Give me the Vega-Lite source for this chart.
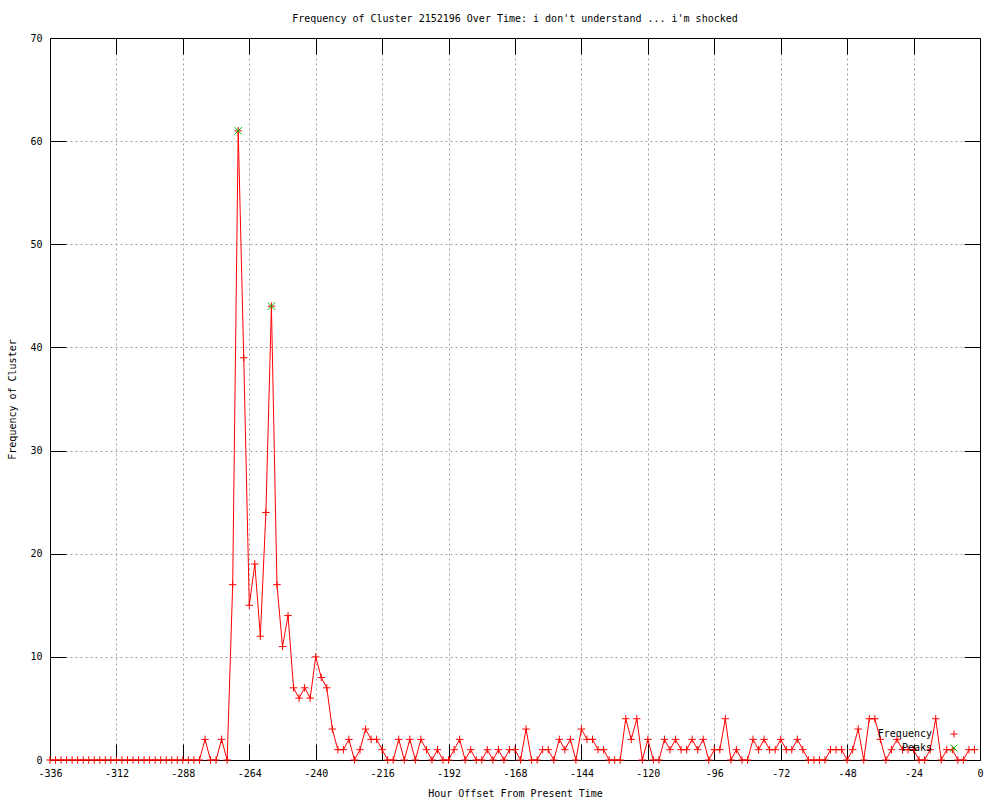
{
  "$schema": "https://vega.github.io/schema/vega-lite/v6.json",
  "width": 930,
  "height": 722,
  "autosize": "none",
  "padding": {"left": 50, "top": 38, "right": 20, "bottom": 40},
  "background": "white",
  "title": {"text": "Frequency of Cluster 2152196 Over Time: i don't understand ... i'm shocked", "font": "DejaVu Sans Mono", "fontSize": 10, "fontWeight": "normal", "color": "black", "offset": 9, "anchor": "middle"},
  "config": {
    "view": {"stroke": "black", "strokeWidth": 1},
    "axis": {"labelFont": "DejaVu Sans Mono", "labelFontSize": 10, "labelColor": "black", "titleFont": "DejaVu Sans Mono", "titleFontSize": 10, "titleFontWeight": "normal", "titleColor": "black", "tickColor": "black", "tickWidth": 1, "domain": false, "labelFlush": false, "labelOverlap": false, "labelBound": false, "gridColor": "#a0a0a0", "gridDash": [2, 3], "gridWidth": 1, "gridOpacity": 1}
  },
  "datasets": {
    "freq": [
      {"h": -336, "c": 0}, {"h": -334, "c": 0}, {"h": -332, "c": 0}, {"h": -330, "c": 0}, {"h": -328, "c": 0}, {"h": -326, "c": 0}, {"h": -324, "c": 0}, {"h": -322, "c": 0}, {"h": -320, "c": 0}, {"h": -318, "c": 0},
      {"h": -316, "c": 0}, {"h": -314, "c": 0}, {"h": -312, "c": 0}, {"h": -310, "c": 0}, {"h": -308, "c": 0}, {"h": -306, "c": 0}, {"h": -304, "c": 0}, {"h": -302, "c": 0}, {"h": -300, "c": 0}, {"h": -298, "c": 0},
      {"h": -296, "c": 0}, {"h": -294, "c": 0}, {"h": -292, "c": 0}, {"h": -290, "c": 0}, {"h": -288, "c": 0}, {"h": -286, "c": 0}, {"h": -284, "c": 0}, {"h": -282, "c": 0}, {"h": -280, "c": 2}, {"h": -278, "c": 0},
      {"h": -276, "c": 0}, {"h": -274, "c": 2}, {"h": -272, "c": 0}, {"h": -270, "c": 17}, {"h": -268, "c": 61}, {"h": -266, "c": 39}, {"h": -264, "c": 15}, {"h": -262, "c": 19}, {"h": -260, "c": 12}, {"h": -258, "c": 24},
      {"h": -256, "c": 44}, {"h": -254, "c": 17}, {"h": -252, "c": 11}, {"h": -250, "c": 14}, {"h": -248, "c": 7}, {"h": -246, "c": 6}, {"h": -244, "c": 7}, {"h": -242, "c": 6}, {"h": -240, "c": 10}, {"h": -238, "c": 8},
      {"h": -236, "c": 7}, {"h": -234, "c": 3}, {"h": -232, "c": 1}, {"h": -230, "c": 1}, {"h": -228, "c": 2}, {"h": -226, "c": 0}, {"h": -224, "c": 1}, {"h": -222, "c": 3}, {"h": -220, "c": 2}, {"h": -218, "c": 2},
      {"h": -216, "c": 1}, {"h": -214, "c": 0}, {"h": -212, "c": 0}, {"h": -210, "c": 2}, {"h": -208, "c": 0}, {"h": -206, "c": 2}, {"h": -204, "c": 0}, {"h": -202, "c": 2}, {"h": -200, "c": 1}, {"h": -198, "c": 0},
      {"h": -196, "c": 1}, {"h": -194, "c": 0}, {"h": -192, "c": 0}, {"h": -190, "c": 1}, {"h": -188, "c": 2}, {"h": -186, "c": 0}, {"h": -184, "c": 1}, {"h": -182, "c": 0}, {"h": -180, "c": 0}, {"h": -178, "c": 1},
      {"h": -176, "c": 0}, {"h": -174, "c": 1}, {"h": -172, "c": 0}, {"h": -170, "c": 1}, {"h": -168, "c": 1}, {"h": -166, "c": 0}, {"h": -164, "c": 3}, {"h": -162, "c": 0}, {"h": -160, "c": 0}, {"h": -158, "c": 1},
      {"h": -156, "c": 1}, {"h": -154, "c": 0}, {"h": -152, "c": 2}, {"h": -150, "c": 1}, {"h": -148, "c": 2}, {"h": -146, "c": 0}, {"h": -144, "c": 3}, {"h": -142, "c": 2}, {"h": -140, "c": 2}, {"h": -138, "c": 1},
      {"h": -136, "c": 1}, {"h": -134, "c": 0}, {"h": -132, "c": 0}, {"h": -130, "c": 0}, {"h": -128, "c": 4}, {"h": -126, "c": 2}, {"h": -124, "c": 4}, {"h": -122, "c": 0}, {"h": -120, "c": 2}, {"h": -118, "c": 0},
      {"h": -116, "c": 0}, {"h": -114, "c": 2}, {"h": -112, "c": 1}, {"h": -110, "c": 2}, {"h": -108, "c": 1}, {"h": -106, "c": 1}, {"h": -104, "c": 2}, {"h": -102, "c": 1}, {"h": -100, "c": 2}, {"h": -98, "c": 0},
      {"h": -96, "c": 1}, {"h": -94, "c": 1}, {"h": -92, "c": 4}, {"h": -90, "c": 0}, {"h": -88, "c": 1}, {"h": -86, "c": 0}, {"h": -84, "c": 0}, {"h": -82, "c": 2}, {"h": -80, "c": 1}, {"h": -78, "c": 2},
      {"h": -76, "c": 1}, {"h": -74, "c": 1}, {"h": -72, "c": 2}, {"h": -70, "c": 1}, {"h": -68, "c": 1}, {"h": -66, "c": 2}, {"h": -64, "c": 1}, {"h": -62, "c": 0}, {"h": -60, "c": 0}, {"h": -58, "c": 0},
      {"h": -56, "c": 0}, {"h": -54, "c": 1}, {"h": -52, "c": 1}, {"h": -50, "c": 1}, {"h": -48, "c": 0}, {"h": -46, "c": 1}, {"h": -44, "c": 3}, {"h": -42, "c": 0}, {"h": -40, "c": 4}, {"h": -38, "c": 4},
      {"h": -36, "c": 2}, {"h": -34, "c": 0}, {"h": -32, "c": 1}, {"h": -30, "c": 2}, {"h": -28, "c": 1}, {"h": -26, "c": 1}, {"h": -24, "c": 1}, {"h": -22, "c": 0}, {"h": -20, "c": 0}, {"h": -18, "c": 1},
      {"h": -16, "c": 4}, {"h": -14, "c": 0}, {"h": -12, "c": 1}, {"h": -10, "c": 1}, {"h": -8, "c": 0}, {"h": -6, "c": 0}, {"h": -4, "c": 1}, {"h": -2, "c": 1}
    ],
    "peaks": [
      {"h": -268, "c": 61}, {"h": -256, "c": 44}
    ]
  },
  "layer": [
    {
      "data": {"name": "freq"},
      "mark": {"type": "line", "color": "#ff0000", "strokeWidth": 1, "interpolate": "linear"},
      "encoding": {
        "x": {"field": "h", "type": "quantitative", "scale": {"domain": [-336, 0], "nice": false, "zero": false},
              "axis": {"orient": "top", "values": [-336, -312, -288, -264, -240, -216, -192, -168, -144, -120, -96, -72, -48, -24, 0], "labels": false, "title": null, "tickSize": -16, "grid": false}},
        "y": {"field": "c", "type": "quantitative", "scale": {"domain": [0, 70], "nice": false},
              "axis": {"orient": "right", "values": [0, 10, 20, 30, 40, 50, 60, 70], "labels": false, "title": null, "tickSize": -16, "grid": false}}
      }
    },
    {
      "data": {"name": "freq"},
      "mark": {"type": "point", "filled": false, "size": 56, "strokeWidth": 1, "opacity": 1},
      "encoding": {
        "x": {"field": "h", "type": "quantitative",
              "axis": {"orient": "bottom", "values": [-336, -312, -288, -264, -240, -216, -192, -168, -144, -120, -96, -72, -48, -24, 0], "labelExpr": "'' + datum.value", "tickSize": -16, "grid": true, "gridOpacity": {"condition": {"test": "datum.value === -336 || datum.value === 0", "value": 0}, "value": 1}, "labelPadding": 24, "title": "Hour Offset From Present Time", "titlePadding": 10}},
        "y": {"field": "c", "type": "quantitative",
              "axis": {"orient": "left", "values": [0, 10, 20, 30, 40, 50, 60, 70], "labelExpr": "'' + datum.value", "tickSize": -16, "grid": true, "gridOpacity": {"condition": {"test": "datum.value === 0 || datum.value === 70", "value": 0}, "value": 1}, "labelPadding": 24, "title": "Frequency of Cluster", "titlePadding": 12}},
        "shape": {"datum": "Frequency", "type": "nominal",
                  "scale": {"domain": ["Frequency", "Peaks"], "range": ["M-1,0L1,0M0,-1L0,1", "M-1,-1L1,1M-1,1L1,-1"]},
                  "legend": {"title": null, "orient": "none", "legendX": 850, "legendY": 691}},
        "color": {"datum": "Frequency", "type": "nominal",
                  "scale": {"domain": ["Frequency", "Peaks"], "range": ["#ff0000", "#00c000"]},
                  "legend": {"title": null, "orient": "none", "legendX": 850, "legendY": 691, "padding": 0, "symbolSize": 49, "rowPadding": 2, "labelAlign": "right", "labelOffset": -27, "symbolOffset": 49, "labelFont": "DejaVu Sans Mono", "labelFontSize": 10, "labelColor": "black", "symbolStrokeWidth": 1}}
      }
    },
    {
      "data": {"name": "peaks"},
      "mark": {"type": "point", "filled": false, "size": 56, "strokeWidth": 1, "opacity": 1},
      "encoding": {
        "x": {"field": "h", "type": "quantitative", "axis": null},
        "y": {"field": "c", "type": "quantitative", "axis": null},
        "shape": {"datum": "Peaks", "type": "nominal"},
        "color": {"datum": "Peaks", "type": "nominal"}
      }
    }
  ]
}
